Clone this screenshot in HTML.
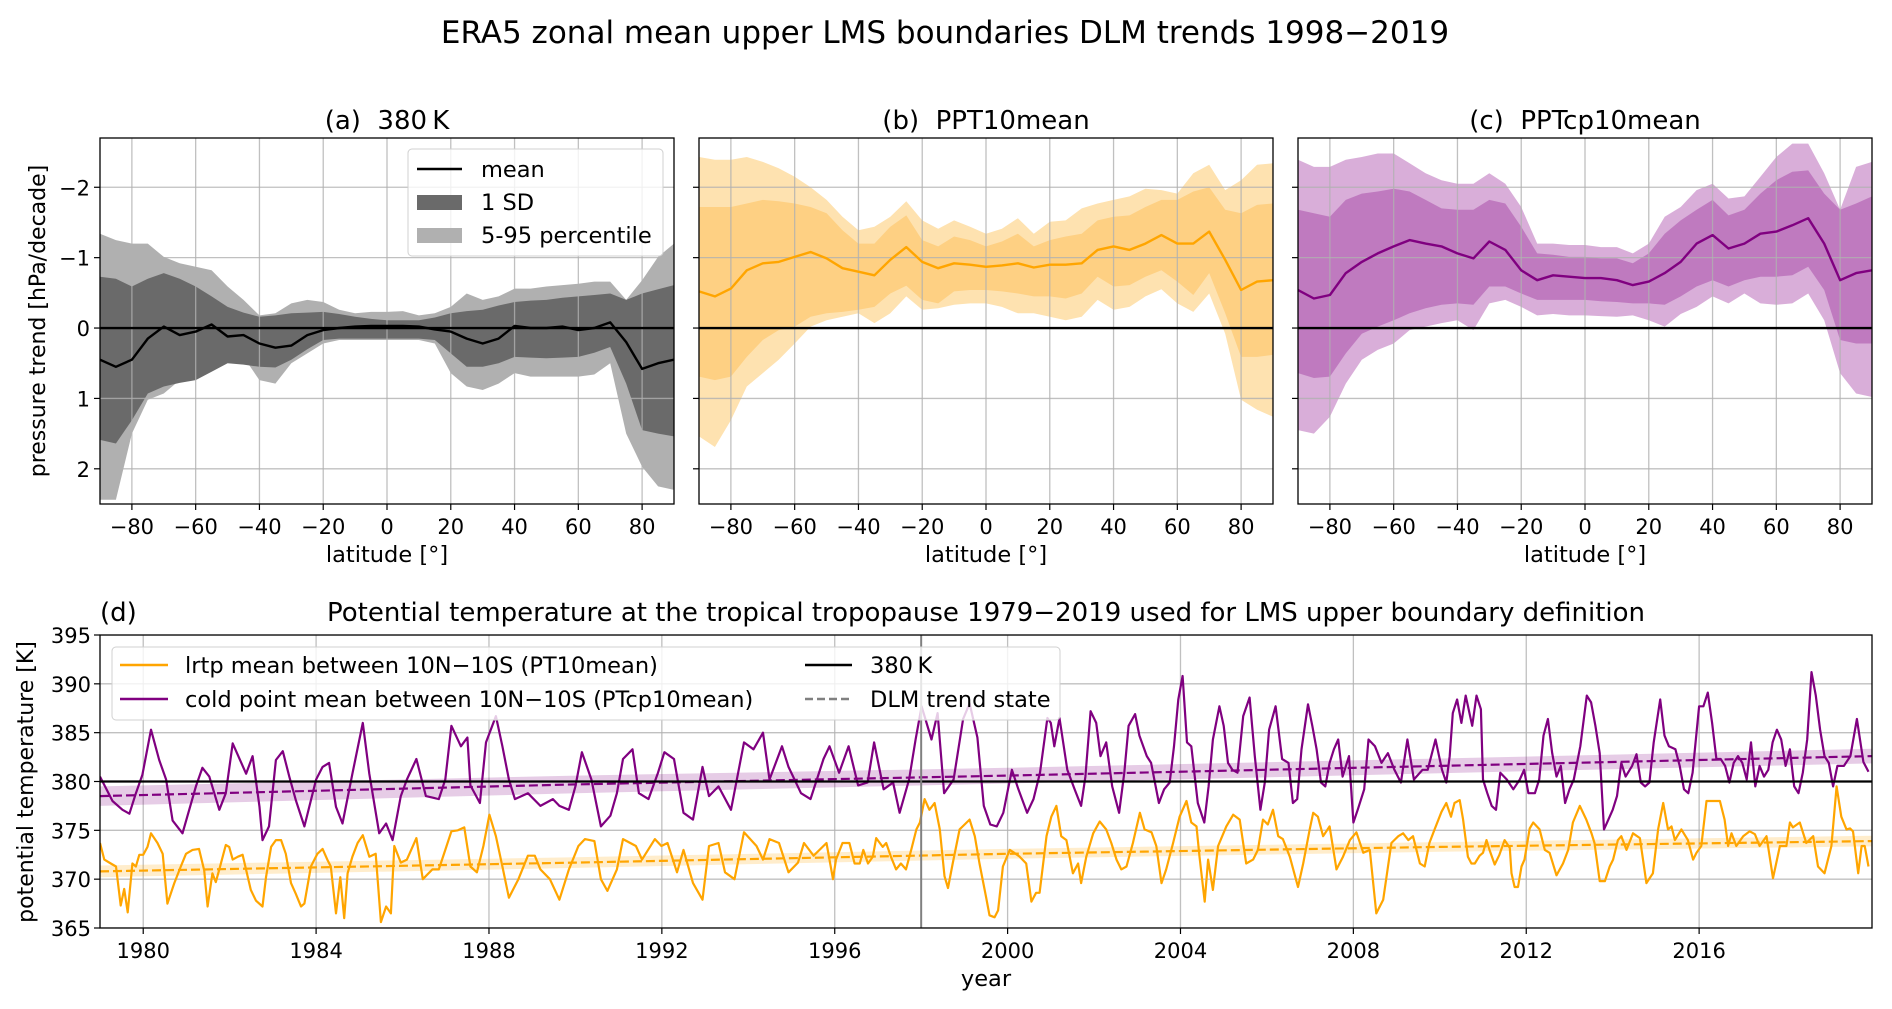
<!DOCTYPE html>
<html><head><meta charset="utf-8">
<style>
html,body{margin:0;padding:0;background:#fff;}
svg{display:block;font-family:"DejaVu Sans","Liberation Sans",sans-serif;}
</style></head>
<body>
<svg id="fig" width="1892" height="1009" viewBox="0 0 1892 1009" xmlns="http://www.w3.org/2000/svg">
<rect width="1892" height="1009" fill="#fff"/>
<text x="945" y="43" font-size="31" text-anchor="middle" fill="#000">ERA5 zonal mean upper LMS boundaries DLM trends 1998−2019</text>
<g id="layer"></g>
</svg>
<script>
// ---------- Data: panels a-c (latitude every 5 degrees) ----------
const lat = [-90,-85,-80,-75,-70,-65,-60,-55,-50,-45,-40,-35,-30,-25,-20,-15,-10,-5,0,5,10,15,20,25,30,35,40,45,50,55,60,65,70,75,80,85,90];
const latTicks = [-80,-60,-40,-20,0,20,40,60,80];
const latTickLabels = ["−80","−60","−40","−20","0","20","40","60","80"];
const pTicks = [-2,-1,0,1,2];
const pTickLabels = ["−2","−1","0","1","2"];

const aMean = [0.45,0.55,0.45,0.15,-0.02,0.1,0.05,-0.05,0.12,0.1,0.22,0.28,0.25,0.1,0.03,0.0,-0.02,-0.03,-0.03,-0.03,-0.02,0.02,0.05,0.15,0.22,0.15,-0.03,0.0,0.0,-0.02,0.03,0.0,-0.08,0.2,0.58,0.5,0.45];
const aSdHi = [-0.73,-0.7,-0.59,-0.7,-0.78,-0.7,-0.59,-0.45,-0.3,-0.22,-0.16,-0.18,-0.21,-0.22,-0.23,-0.2,-0.16,-0.13,-0.11,-0.11,-0.11,-0.15,-0.21,-0.24,-0.26,-0.32,-0.37,-0.39,-0.4,-0.43,-0.45,-0.47,-0.49,-0.4,-0.49,-0.55,-0.61];
const aSdLo = [1.59,1.64,1.31,0.93,0.83,0.78,0.74,0.62,0.5,0.52,0.55,0.56,0.45,0.3,0.17,0.15,0.15,0.15,0.15,0.15,0.15,0.17,0.36,0.55,0.55,0.5,0.41,0.42,0.43,0.42,0.41,0.35,0.27,0.79,1.45,1.5,1.54];
const aPHi = [-1.34,-1.25,-1.2,-1.2,-1.01,-0.92,-0.87,-0.82,-0.59,-0.4,-0.18,-0.21,-0.35,-0.4,-0.37,-0.26,-0.21,-0.23,-0.23,-0.24,-0.18,-0.21,-0.3,-0.49,-0.4,-0.45,-0.56,-0.56,-0.59,-0.61,-0.63,-0.66,-0.66,-0.4,-0.68,-1.01,-1.2];
const aPLo = [2.44,2.44,1.5,1.02,0.93,0.74,0.6,0.55,0.45,0.41,0.74,0.79,0.5,0.36,0.22,0.17,0.17,0.17,0.17,0.17,0.17,0.22,0.64,0.83,0.88,0.79,0.64,0.69,0.69,0.69,0.69,0.66,0.5,1.5,1.97,2.25,2.3];

const bMean = [-0.52,-0.45,-0.56,-0.82,-0.92,-0.94,-1.01,-1.08,-0.99,-0.85,-0.8,-0.75,-0.97,-1.15,-0.94,-0.85,-0.92,-0.9,-0.87,-0.89,-0.92,-0.86,-0.9,-0.9,-0.92,-1.11,-1.16,-1.11,-1.2,-1.32,-1.2,-1.2,-1.37,-0.97,-0.54,-0.66,-0.68];
const bSdHi = [-1.72,-1.72,-1.72,-1.77,-1.82,-1.8,-1.77,-1.72,-1.63,-1.39,-1.2,-1.2,-1.44,-1.6,-1.25,-1.16,-1.3,-1.25,-1.16,-1.23,-1.34,-1.16,-1.25,-1.3,-1.34,-1.53,-1.58,-1.6,-1.72,-1.82,-1.82,-1.94,-2.0,-1.68,-1.63,-1.75,-1.77];
const bSdLo = [0.69,0.74,0.69,0.41,0.17,0.03,-0.02,-0.16,-0.21,-0.23,-0.26,-0.3,-0.49,-0.6,-0.4,-0.35,-0.52,-0.54,-0.54,-0.52,-0.49,-0.45,-0.45,-0.42,-0.49,-0.73,-0.59,-0.61,-0.73,-0.82,-0.66,-0.47,-0.78,-0.21,0.41,0.41,0.38];
const bPHi = [-2.43,-2.39,-2.39,-2.43,-2.36,-2.27,-2.15,-2.0,-1.82,-1.58,-1.39,-1.44,-1.58,-1.8,-1.53,-1.41,-1.53,-1.44,-1.34,-1.41,-1.56,-1.34,-1.51,-1.53,-1.7,-1.77,-1.82,-1.87,-1.98,-1.96,-1.91,-2.2,-2.32,-1.96,-2.1,-2.32,-2.34];
const bPLo = [1.54,1.69,1.31,0.83,0.64,0.45,0.22,-0.02,-0.11,-0.16,-0.21,-0.07,-0.21,-0.45,-0.26,-0.28,-0.33,-0.35,-0.35,-0.3,-0.21,-0.21,-0.16,-0.11,-0.16,-0.4,-0.26,-0.3,-0.45,-0.55,-0.35,-0.23,-0.49,0.08,1.02,1.16,1.26];

const cMean = [-0.54,-0.42,-0.47,-0.78,-0.94,-1.06,-1.16,-1.25,-1.2,-1.16,-1.06,-0.99,-1.23,-1.11,-0.82,-0.68,-0.75,-0.73,-0.71,-0.71,-0.68,-0.61,-0.66,-0.78,-0.94,-1.2,-1.32,-1.13,-1.2,-1.34,-1.37,-1.46,-1.56,-1.2,-0.68,-0.78,-0.82];
const cSdHi = [-1.68,-1.63,-1.58,-1.82,-1.91,-1.94,-1.98,-1.94,-1.82,-1.7,-1.68,-1.68,-1.82,-1.77,-1.44,-1.06,-1.04,-1.01,-1.01,-0.99,-0.99,-0.92,-1.06,-1.34,-1.53,-1.68,-1.82,-1.6,-1.68,-1.91,-2.1,-2.22,-2.24,-1.91,-1.68,-1.77,-1.87];
const cSdLo = [0.64,0.71,0.69,0.36,0.08,-0.02,-0.11,-0.21,-0.28,-0.33,-0.35,-0.33,-0.59,-0.59,-0.49,-0.4,-0.4,-0.4,-0.4,-0.38,-0.37,-0.35,-0.35,-0.33,-0.45,-0.59,-0.68,-0.59,-0.68,-0.73,-0.73,-0.75,-0.87,-0.54,0.17,0.22,0.22];
const cPHi = [-2.39,-2.29,-2.29,-2.39,-2.43,-2.48,-2.48,-2.34,-2.2,-2.1,-2.05,-2.05,-2.2,-2.05,-1.72,-1.2,-1.2,-1.18,-1.18,-1.15,-1.15,-1.06,-1.2,-1.58,-1.72,-1.96,-2.05,-1.84,-1.87,-2.15,-2.43,-2.62,-2.62,-2.2,-1.68,-2.29,-2.36];
const cPLo = [1.45,1.5,1.26,0.79,0.45,0.31,0.22,0.03,-0.02,-0.07,-0.11,0.03,-0.35,-0.4,-0.3,-0.18,-0.2,-0.18,-0.18,-0.17,-0.16,-0.18,-0.11,-0.02,-0.2,-0.3,-0.45,-0.35,-0.49,-0.35,-0.33,-0.35,-0.49,-0.11,0.64,0.93,0.98];

// ---------- Data: panel d ----------
const yearTicks = [1980,1984,1988,1992,1996,2000,2004,2008,2012,2016];
const tempTicks = [365,370,375,380,385,390,395];
const cpYears = [1979.0,1979.29,1979.52,1979.68,1979.83,1979.98,1980.18,1980.37,1980.53,1980.68,1980.91,1981.22,1981.37,1981.53,1981.76,1981.91,1982.07,1982.38,1982.53,1982.69,1982.76,1982.91,1983.07,1983.23,1983.38,1983.53,1983.73,1984.0,1984.15,1984.3,1984.46,1984.61,1984.84,1985.08,1985.23,1985.46,1985.62,1985.77,1985.96,1986.1,1986.32,1986.54,1986.84,1986.99,1987.13,1987.35,1987.5,1987.57,1987.79,1987.93,1988.16,1988.31,1988.46,1988.6,1988.9,1989.19,1989.48,1989.63,1989.85,1990.0,1990.15,1990.37,1990.59,1990.81,1990.96,1991.1,1991.32,1991.47,1991.69,1991.91,1992.06,1992.28,1992.5,1992.72,1992.94,1993.09,1993.31,1993.6,1993.9,1994.12,1994.34,1994.49,1994.78,1994.93,1995.22,1995.44,1995.74,1995.88,1996.1,1996.32,1996.54,1996.76,1996.91,1997.13,1997.35,1997.5,1997.72,1997.87,1998.01,1998.24,1998.38,1998.53,1998.75,1998.97,1999.12,1999.3,1999.45,1999.6,1999.75,1999.9,2000.1,2000.25,2000.45,2000.6,2000.75,2000.92,2001.0,2001.08,2001.2,2001.38,2001.55,2001.7,2001.8,2001.92,2002.05,2002.15,2002.28,2002.42,2002.58,2002.7,2002.8,2002.95,2003.05,2003.22,2003.32,2003.5,2003.62,2003.75,2003.85,2003.95,2004.05,2004.15,2004.25,2004.4,2004.55,2004.65,2004.75,2004.9,2005.0,2005.1,2005.2,2005.32,2005.45,2005.6,2005.72,2005.85,2005.95,2006.05,2006.2,2006.35,2006.5,2006.6,2006.7,2006.8,2006.95,2007.05,2007.15,2007.25,2007.35,2007.45,2007.55,2007.65,2007.75,2007.9,2008.0,2008.1,2008.25,2008.35,2008.5,2008.65,2008.8,2008.95,2009.1,2009.25,2009.4,2009.6,2009.72,2009.9,2010.05,2010.15,2010.23,2010.3,2010.4,2010.5,2010.6,2010.75,2010.85,2010.95,2011.0,2011.1,2011.2,2011.3,2011.4,2011.55,2011.7,2011.85,2011.95,2012.05,2012.2,2012.3,2012.4,2012.5,2012.6,2012.7,2012.8,2012.9,2013.0,2013.1,2013.25,2013.4,2013.5,2013.6,2013.7,2013.8,2013.9,2014.0,2014.1,2014.2,2014.3,2014.45,2014.55,2014.65,2014.75,2014.85,2014.95,2015.1,2015.2,2015.3,2015.45,2015.55,2015.65,2015.75,2015.85,2016.0,2016.1,2016.2,2016.3,2016.4,2016.5,2016.6,2016.7,2016.8,2016.9,2017.0,2017.1,2017.2,2017.3,2017.4,2017.5,2017.6,2017.7,2017.8,2017.9,2018.0,2018.1,2018.2,2018.3,2018.4,2018.5,2018.6,2018.7,2018.8,2018.9,2019.0,2019.1,2019.2,2019.35,2019.5,2019.65,2019.8,2019.92];
const cpValues = [380.5,378,377.1,376.7,378.8,380.7,385.3,382.2,380.2,376,374.7,379.5,381.4,380.5,377.1,378.8,383.9,380.8,382.6,377.4,374,375.4,382.2,383.1,380.5,378.1,375.4,380.2,381.5,381.9,377.4,375.7,380.8,386,380.8,374.7,375.7,374,378.5,380.2,382.3,378.5,378.2,380.2,385.7,383.6,384.5,379.6,377.8,384,386.7,383.6,380.2,378.2,378.8,377.5,378.2,377.5,377.1,379.5,383,380.2,375.4,376.5,378.8,382.3,383.3,378.8,378.2,380.9,383,382.3,376.8,376.1,381.5,378.5,379.5,377.1,384,383.3,385,380.2,383.6,381.5,378.8,378.2,382.3,383.6,380.9,383.6,379.6,379.9,384,379.2,379.9,376.8,380.2,384.3,387.7,384.3,387,378.8,380.2,386.4,388,384.5,377.5,375.6,375.4,376.8,381.2,379.2,376.8,378.2,380.9,386.5,386,383.6,386.5,381.2,379.2,377.5,380.5,387.2,386,382.6,384,379.5,376.8,380.9,385.7,386.9,384.7,382.6,381.9,377.8,379.2,379.9,383.6,388.4,390.8,384,383.6,377.8,375.8,379.5,384.3,387.7,385.7,381.9,381.2,380.9,386.7,388.6,382.6,377.1,379.9,385.3,387.7,382.3,381.9,377.8,378.2,383.3,387.9,385.7,383.3,379.9,379.5,381.9,383.3,384.3,380.5,382.6,375.8,377.1,379.2,384.3,383.6,381.9,382.9,381.2,379.9,384.3,380.2,381.2,381.2,384.3,381.2,379.9,382.6,387,388.4,386,388.8,385.7,388.8,387.4,380.2,378.8,377.5,377.1,380.9,380.2,379.2,380.2,381.2,378.8,378.8,380.2,384.7,386.4,382.9,380.5,381.6,377.8,379.2,380.2,383.6,388.8,388.1,385.7,382.9,375.1,376.1,377.1,378.5,381.9,380.5,381.6,382.8,379.9,379.5,379.9,384,388.4,384.7,383.6,383.3,381.6,379.2,378.8,380.9,387.7,387.7,389.1,386,382.3,382.3,381.6,379.9,381.9,382.6,381.9,380.2,384,379.5,381.6,380.5,381.2,384,385.3,384.3,381.6,383.3,379.5,378.8,380.9,384.3,391.2,388.8,385.3,382.6,381.9,379.5,381.6,381.6,382.6,386.4,382,381,381.5,383,382.5,386.5];
const lrYears = [1979.0,1979.1,1979.25,1979.37,1979.48,1979.56,1979.64,1979.75,1979.83,1979.91,1980.0,1980.1,1980.18,1980.33,1980.45,1980.56,1980.72,1980.87,1980.99,1981.14,1981.29,1981.41,1981.49,1981.6,1981.68,1981.76,1981.91,1981.99,1982.07,1982.19,1982.3,1982.49,1982.61,1982.76,1982.84,1982.96,1983.07,1983.19,1983.3,1983.42,1983.53,1983.65,1983.73,1983.88,1984.03,1984.15,1984.26,1984.34,1984.46,1984.56,1984.65,1984.73,1984.84,1984.96,1985.08,1985.23,1985.38,1985.5,1985.62,1985.73,1985.81,1985.96,1986.1,1986.32,1986.47,1986.69,1986.84,1986.99,1987.13,1987.28,1987.43,1987.57,1987.72,1987.87,1988.01,1988.16,1988.31,1988.46,1988.68,1988.9,1989.06,1989.19,1989.41,1989.63,1989.85,1990.07,1990.22,1990.44,1990.59,1990.74,1990.96,1991.1,1991.4,1991.54,1991.84,1991.99,1992.13,1992.35,1992.5,1992.72,1992.94,1993.09,1993.31,1993.46,1993.68,1993.9,1994.19,1994.34,1994.49,1994.71,1994.93,1995.15,1995.29,1995.51,1995.81,1995.96,1996.03,1996.18,1996.34,1996.46,1996.58,1996.66,1996.77,1996.88,1996.96,1997.11,1997.19,1997.3,1997.42,1997.53,1997.65,1997.77,1997.89,1997.97,1998.08,1998.19,1998.31,1998.43,1998.54,1998.62,1998.73,1998.89,1999.12,1999.24,1999.35,1999.5,1999.58,1999.7,1999.78,1999.89,2000.05,2000.12,2000.28,2000.43,2000.55,2000.66,2000.74,2000.9,2001.01,2001.13,2001.24,2001.36,2001.51,2001.63,2001.7,2001.82,2001.98,2002.13,2002.28,2002.4,2002.52,2002.63,2002.75,2002.9,2003.06,2003.17,2003.33,2003.44,2003.56,2003.67,2003.83,2003.98,2004.14,2004.25,2004.37,2004.44,2004.56,2004.64,2004.75,2004.87,2005.06,2005.22,2005.37,2005.52,2005.68,2005.79,2005.91,2006.02,2006.14,2006.26,2006.37,2006.53,2006.72,2006.84,2006.99,2007.07,2007.18,2007.3,2007.45,2007.61,2007.76,2007.92,2008.07,2008.23,2008.38,2008.53,2008.69,2008.88,2009.04,2009.15,2009.27,2009.38,2009.54,2009.65,2009.76,2009.88,2010.04,2010.15,2010.26,2010.34,2010.46,2010.54,2010.65,2010.73,2010.81,2010.92,2011.0,2011.08,2011.15,2011.27,2011.38,2011.5,2011.62,2011.66,2011.73,2011.81,2011.89,2011.96,2012.08,2012.16,2012.31,2012.43,2012.54,2012.7,2012.85,2012.97,2013.08,2013.24,2013.39,2013.51,2013.58,2013.7,2013.82,2013.93,2014.01,2014.12,2014.2,2014.32,2014.47,2014.63,2014.78,2014.93,2015.05,2015.17,2015.28,2015.36,2015.44,2015.59,2015.74,2015.86,2015.94,2016.05,2016.17,2016.32,2016.48,2016.59,2016.67,2016.75,2016.86,2017.02,2017.17,2017.29,2017.4,2017.56,2017.71,2017.87,2018.02,2018.1,2018.17,2018.33,2018.48,2018.64,2018.75,2018.9,2019.06,2019.18,2019.29,2019.41,2019.49,2019.56,2019.68,2019.76,2019.83,2019.92];
const lrValues = [373.7,372,371.6,371.3,367.3,369,366.6,371.6,371.3,372.5,372.5,373.3,374.7,373.7,372.6,367.5,369.6,371.3,372.6,373,373.1,370.9,367.2,370.6,369.7,371,373.5,373.3,372,372.3,372.5,368.9,367.8,367.2,370.2,373.3,374,374,372.6,369.6,368.5,367.2,367.5,371.3,372.6,373.1,372,371.3,366.5,370.2,366,370.6,372.3,373.7,374.5,372.3,372.6,365.6,367.2,366.5,373.4,371.7,372,374.2,370,371,371,373,374.9,375,375.3,371.3,370.7,373.4,376.6,374.4,371.3,368.1,370,372.4,372.4,371,370,367.9,371,373.4,374.1,373.9,370,368.8,371,374.1,373.4,372,374.1,373.4,373.7,370.7,373,369.6,367.9,373.4,373.7,370.7,370,374.8,373.4,372,374.1,373.7,370.7,371.7,373.7,372.4,373.7,370,372,373.7,373.7,371.6,371.6,373,371.6,372.3,374.2,373.3,373.7,372.3,371,371.6,371,373,375.1,375.8,378.2,377.1,377.8,375.1,370.3,369.1,371.6,375.1,376.1,374.4,371.6,368.2,366.3,366.1,366.8,371.3,373,372.8,372.3,371.6,367.7,368.6,368.6,374.4,376.4,377.5,374.4,374,370.6,371.6,369.6,372.3,374.7,375.9,375.1,373.7,372,371,371.3,373.7,376.8,375.1,374.8,373.4,369.6,371,373.7,376.4,378,375.8,375.4,372.3,367.7,372,368.9,373.4,375.4,376.6,376.1,371.6,372,373,376.1,375.6,377.1,374.4,374.1,372.3,369.2,371.6,375.1,376.8,376.4,374.4,375.4,371,372.3,374,374.8,372.7,373,366.5,367.9,373.7,374.4,374.7,374,374.4,371.6,371.3,373.7,375.1,376.9,377.8,376.4,377.8,378.1,376.1,372.3,371.6,371.6,372.4,372.7,374,373,371.5,372.5,374,373.2,370.6,369.2,369.2,371.3,372,375.2,375.8,375.1,373,372.7,370.4,371.6,373,375.8,377.5,376.1,374.7,373.7,369.8,369.8,371.3,372,374,374.4,373,374.7,374.2,369.6,370.6,375.1,377.8,375.1,375.4,374,375.1,374,372,372.7,373.4,378,378,378,376.1,373.4,374.7,373.4,374.4,374.9,374.6,373.4,374.4,370.1,373.4,373.4,375.8,375.3,375.8,373.7,374.4,371.3,370.6,373.4,379.5,376.4,375.1,375.2,374.9,370.6,373.4,373.4,371.3,375.8];
const trendYears = [1979,1990,2000,2010,2020];
const cpTrend = [378.5,379.7,380.6,381.6,382.6];
const cpTrendBand = [1.0,0.9,0.8,0.75,0.75];
const lrTrend = [370.8,371.7,372.6,373.3,373.9];
const lrTrendBand = [0.6,0.55,0.5,0.5,0.55];
const refLevel = 380;
const dlmStart = 1998;

// ---------- helpers ----------
const NS = "http://www.w3.org/2000/svg";
const layer = document.getElementById("layer");
function mk(tag, attrs, parent){
  const e = document.createElementNS(NS, tag);
  for (const k in attrs) e.setAttribute(k, attrs[k]);
  (parent||layer).appendChild(e);
  return e;
}
function txt(parent, x, y, s, size, anchor, extra){
  const t = mk("text", Object.assign({x:x, y:y, "font-size":size, "text-anchor":anchor||"middle", fill:"#000"}, extra||{}), parent);
  t.textContent = s;
  return t;
}

// ---------- latitude panels ----------
const TOP = 138, BOT = 504, YMIN = -2.7, YMAX = 2.5;
function drawPanel(cfg){
  const g = mk("g", {});
  
  
  const L = cfg.left, R = cfg.right;
  const sx = v => L + (v + 90) / 180 * (R - L);
  const sy = v => TOP + (v - YMIN) / (YMAX - YMIN) * (BOT - TOP);
  const clipId = "clip-" + cfg.name;
  const cp = mk("clipPath", {id: clipId}, g);
  mk("rect", {x:L, y:TOP, width:R-L, height:BOT-TOP}, cp);
  const inner = mk("g", {"clip-path":"url(#"+clipId+")"}, g);
  function band(hi, lo, color, name){
    let d = "";
    lat.forEach((la,i)=>{ d += (i? "L":"M") + sx(la).toFixed(1) + "," + sy(hi[i]).toFixed(1); });
    for (let i = lat.length-1; i>=0; i--) d += "L" + sx(lat[i]).toFixed(1) + "," + sy(lo[i]).toFixed(1);
    const p = mk("path", {d: d + "Z", fill: color, stroke: "none"}, inner);
    
    
  }
  band(cfg.pHi, cfg.pLo, cfg.light, "percentile-band");
  band(cfg.sdHi, cfg.sdLo, cfg.dark, "sd-band");
  latTicks.forEach(t=>{
    const gl = mk("line", {x1:sx(t), x2:sx(t), y1:TOP, y2:BOT, stroke:"#b0b0b0", "stroke-width":1.3, "stroke-opacity":0.8}, inner);
    
    
  });
  pTicks.forEach(t=>{
    const gl = mk("line", {x1:L, x2:R, y1:sy(t), y2:sy(t), stroke:"#b0b0b0", "stroke-width":1.3, "stroke-opacity":0.8}, inner);
    
    
  });
  let d = "";
  lat.forEach((la,i)=>{ d += (i? "L":"M") + sx(la).toFixed(1) + "," + sy(cfg.mean[i]).toFixed(1); });
  const ml = mk("path", {d:d, fill:"none", stroke:cfg.line, "stroke-width":2.4, "stroke-linejoin":"round"}, inner);
  
  
  const zl = mk("line", {x1:L, x2:R, y1:sy(0), y2:sy(0), stroke:"#000", "stroke-width":2.4}, inner);
  
  
  const fr = mk("rect", {x:L, y:TOP, width:R-L, height:BOT-TOP, fill:"none", stroke:"#000", "stroke-width":1.3}, g);
  
  
  latTicks.forEach((t,i)=>{
    mk("line", {x1:sx(t), x2:sx(t), y1:BOT, y2:BOT+6, stroke:"#000", "stroke-width":1.2}, g);
    const tl = txt(g, sx(t), BOT+30, latTickLabels[i], 21);
    
    
  });
  pTicks.forEach((t,i)=>{
    mk("line", {x1:L-6, x2:L, y1:sy(t), y2:sy(t), stroke:"#000", "stroke-width":1.2}, g);
    if (cfg.yLabels){
      const tl = txt(g, L-10, sy(t)+8, pTickLabels[i], 21, "end");
      
      
    }
  });
  const xl = txt(g, (L+R)/2, 562, "latitude [°]", 22.5);
  
  
  const tt = txt(g, (L+R)/2, 129, cfg.title, 26);
  
  
  return g;
}

drawPanel({name:"panel-a-380k", left:100, right:674, title:"(a)\u00a0\u00a0380\u2009K", light:"#b0b0b0", dark:"#6a6a6a", line:"#000",
  mean:aMean, sdHi:aSdHi, sdLo:aSdLo, pHi:aPHi, pLo:aPLo, yLabels:true});
drawPanel({name:"panel-b-ppt10mean", left:699, right:1273, title:"(b)\u00a0\u00a0PPT10mean", light:"#fee2b0", dark:"#fed083", line:"#ffa500",
  mean:bMean, sdHi:bSdHi, sdLo:bSdLo, pHi:bPHi, pLo:bPLo, yLabels:false});
drawPanel({name:"panel-c-pptcp10mean", left:1298, right:1872, title:"(c)\u00a0\u00a0PPTcp10mean", light:"#d9aed9", dark:"#bf7abf", line:"#800080",
  mean:cMean, sdHi:cSdHi, sdLo:cSdLo, pHi:cPHi, pLo:cPLo, yLabels:false});

const yl = txt(layer, 0, 0, "pressure trend [hPa/decade]", 22, "middle", {transform:"translate(45,321) rotate(-90)"});



(function(){
  const g = mk("g", {});
  
  
  mk("rect", {x:408, y:149, width:255, height:107, rx:4, fill:"#fff", "fill-opacity":0.8, stroke:"#d0d0d0", "stroke-width":1}, g);
  mk("line", {x1:417, x2:462, y1:169, y2:169, stroke:"#000", "stroke-width":2.4}, g);
  mk("rect", {x:417, y:195, width:45, height:15, fill:"#6a6a6a"}, g);
  mk("rect", {x:417, y:228, width:45, height:15, fill:"#b0b0b0"}, g);
  const e1 = txt(g, 481, 177, "mean", 22.5, "start");
  
  
  const e2 = txt(g, 481, 210, "1 SD", 22.5, "start");
  
  
  const e3 = txt(g, 481, 243, "5-95 percentile", 22.5, "start");
  
  
})();

// ---------- panel d ----------
(function(){
  const L = 100, R = 1872, T = 635, B = 928, X0 = 1979, X1 = 2020, Y0 = 365, Y1 = 395;
  const sx = v => L + (v - X0) / (X1 - X0) * (R - L);
  const sy = v => B - (v - Y0) / (Y1 - Y0) * (B - T);
  const g = mk("g", {});
  
  
  const cp = mk("clipPath", {id:"clip-d"}, g);
  mk("rect", {x:L, y:T, width:R-L, height:B-T}, cp);
  const inner = mk("g", {"clip-path":"url(#clip-d)"}, g);
  yearTicks.forEach(t=>{
    const gl = mk("line", {x1:sx(t), x2:sx(t), y1:T, y2:B, stroke:"#b0b0b0", "stroke-width":1.3, "stroke-opacity":0.8}, inner);
    
    
  });
  tempTicks.forEach(t=>{
    const gl = mk("line", {x1:L, x2:R, y1:sy(t), y2:sy(t), stroke:"#b0b0b0", "stroke-width":1.3, "stroke-opacity":0.8}, inner);
    
    
  });
  function trend(vals, band, color, name){
    let d = "";
    trendYears.forEach((y,i)=>{ d += (i?"L":"M") + sx(y).toFixed(1) + "," + sy(vals[i]+band[i]).toFixed(1); });
    for (let i = trendYears.length-1; i>=0; i--) d += "L" + sx(trendYears[i]).toFixed(1) + "," + sy(vals[i]-band[i]).toFixed(1);
    const b = mk("path", {d:d+"Z", fill:color, "fill-opacity":0.2}, inner);
    
    
    let d2 = "";
    trendYears.forEach((y,i)=>{ d2 += (i?"L":"M") + sx(y).toFixed(1) + "," + sy(vals[i]).toFixed(1); });
    const l = mk("path", {d:d2, fill:"none", stroke:color, "stroke-width":2.2, "stroke-dasharray":"9,4"}, inner);
    
    
  }
  function series(xs, vs, color, name){
    let d = "";
    xs.forEach((x,i)=>{ d += (i?"L":"M") + sx(x).toFixed(1) + "," + sy(vs[i]).toFixed(1); });
    const p = mk("path", {d:d, fill:"none", stroke:color, "stroke-width":2.2, "stroke-linejoin":"round"}, inner);
    
    
  }
  trend(cpTrend, cpTrendBand, "#800080", "cold-point-trend");
  trend(lrTrend, lrTrendBand, "#ffa500", "lrtp-trend");
  series(lrYears, lrValues, "#ffa500", "lrtp-series");
  series(cpYears, cpValues, "#800080", "cold-point-series");
  const rl = mk("line", {x1:L, x2:R, y1:sy(refLevel), y2:sy(refLevel), stroke:"#000", "stroke-width":2.2}, inner);
  
  
  const vl = mk("line", {x1:sx(dlmStart), x2:sx(dlmStart), y1:T, y2:B, stroke:"#808080", "stroke-width":2}, inner);
  
  
  const fr = mk("rect", {x:L, y:T, width:R-L, height:B-T, fill:"none", stroke:"#000", "stroke-width":1.3}, g);
  
  
  yearTicks.forEach(t=>{
    mk("line", {x1:sx(t), x2:sx(t), y1:B, y2:B+6, stroke:"#000", "stroke-width":1.2}, g);
    const tl = txt(g, sx(t), B+30, String(t), 21);
    
    
  });
  tempTicks.forEach(t=>{
    mk("line", {x1:L-6, x2:L, y1:sy(t), y2:sy(t), stroke:"#000", "stroke-width":1.2}, g);
    const tl = txt(g, L-9, sy(t)+8, String(t), 21, "end");
    
    
  });
  const xt = txt(g, (L+R)/2, 986, "year", 22.5);
  
  
  const yt = txt(g, 0, 0, "potential temperature [K]", 22, "middle", {transform:"translate(33,782) rotate(-90)"});
  
  
  const ttl = txt(g, (L+R)/2, 621, "Potential temperature at the tropical tropopause 1979−2019 used for LMS upper boundary definition", 26);
  
  
  const lbl = txt(g, L, 621, "(d)", 26, "start");
  
  
  const lg = mk("g", {}, g);
  
  
  mk("rect", {x:112, y:647, width:948, height:73, rx:4, fill:"#fff", "fill-opacity":0.8, stroke:"#d0d0d0", "stroke-width":1}, lg);
  mk("line", {x1:120, x2:168, y1:665, y2:665, stroke:"#ffa500", "stroke-width":2.4}, lg);
  mk("line", {x1:120, x2:168, y1:699, y2:699, stroke:"#800080", "stroke-width":2.4}, lg);
  mk("line", {x1:805, x2:852, y1:665, y2:665, stroke:"#000", "stroke-width":2.4}, lg);
  mk("line", {x1:805, x2:852, y1:699, y2:699, stroke:"#808080", "stroke-width":2.4, "stroke-dasharray":"8,4"}, lg);
  const l1 = txt(lg, 185, 673, "lrtp mean between 10N−10S (PT10mean)", 22.5, "start");
  
  
  const l2 = txt(lg, 185, 707, "cold point mean between 10N−10S (PTcp10mean)", 22.5, "start");
  
  
  const l3 = txt(lg, 870, 673, "380\u2009K", 22.5, "start");
  
  
  const l4 = txt(lg, 870, 707, "DLM trend state", 22.5, "start");
  
  
})();
</script>
</body></html>
